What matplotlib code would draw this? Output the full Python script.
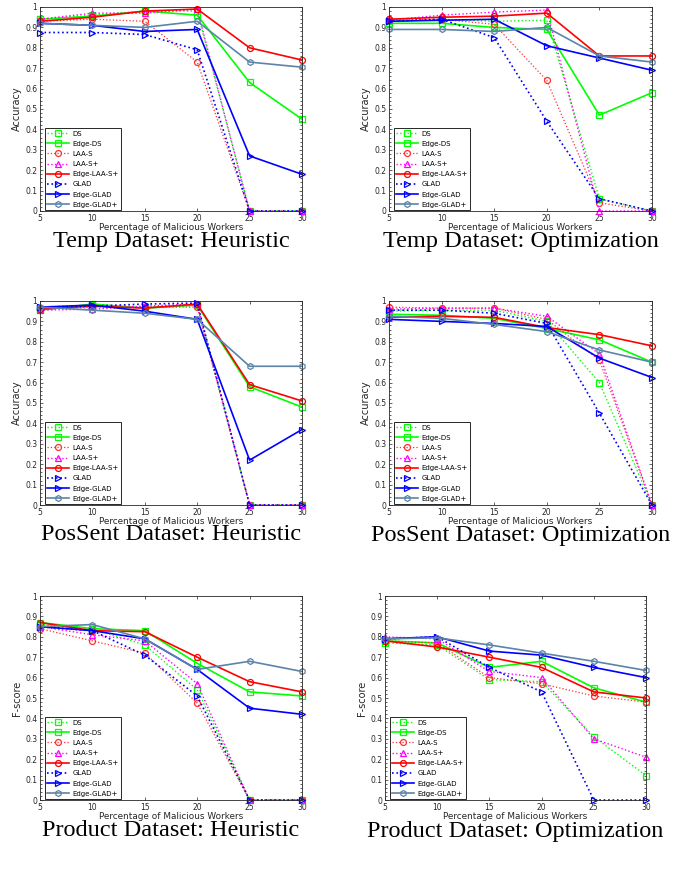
import matplotlib
matplotlib.use("Agg")
import matplotlib.pyplot as plt
from matplotlib.ticker import MultipleLocator

W, H = 681, 869
x_pct = [5, 10, 15, 20, 25, 30]
y_ticks = [0, 0.1, 0.2, 0.3, 0.4, 0.5, 0.6, 0.7, 0.8, 0.9, 1]
y_ticklabels = ["0", "0.1", "0.2", "0.3", "0.4", "0.5", "0.6", "0.7", "0.8", "0.9", "1"]
methods = ["DS", "Edge-DS", "LAA-S", "LAA-S+", "Edge-LAA-S+", "GLAD", "Edge-GLAD", "Edge-GLAD+"]

# Temp Dataset: Heuristic
temp_heur = {
    "DS":          [0.94, 0.96, 0.98, 0.98, 0.00, 0.00],
    "Edge-DS":     [0.94, 0.955, 0.98, 0.96, 0.63, 0.45],
    "LAA-S":       [0.93, 0.94, 0.93, 0.73, 0.00, 0.00],
    "LAA-S+":      [0.94, 0.97, 0.97, 0.99, 0.00, 0.00],
    "Edge-LAA-S+": [0.93, 0.95, 0.98, 0.99, 0.80, 0.74],
    "GLAD":        [0.875, 0.875, 0.865, 0.79, 0.00, 0.00],
    "Edge-GLAD":   [0.92, 0.91, 0.88, 0.89, 0.27, 0.18],
    "Edge-GLAD+":  [0.92, 0.91, 0.90, 0.93, 0.73, 0.705],
}
# Temp Dataset: Optimization
temp_opt = {
    "DS":          [0.93, 0.94, 0.93, 0.935, 0.06, 0.00],
    "Edge-DS":     [0.92, 0.92, 0.90, 0.89, 0.47, 0.58],
    "LAA-S":       [0.94, 0.94, 0.915, 0.64, 0.04, 0.00],
    "LAA-S+":      [0.935, 0.96, 0.975, 0.985, 0.00, 0.00],
    "Edge-LAA-S+": [0.94, 0.95, 0.955, 0.97, 0.76, 0.76],
    "GLAD":        [0.93, 0.94, 0.85, 0.44, 0.06, 0.00],
    "Edge-GLAD":   [0.93, 0.935, 0.94, 0.81, 0.75, 0.69],
    "Edge-GLAD+":  [0.89, 0.89, 0.88, 0.90, 0.76, 0.73],
}
# PosSent Dataset: Heuristic
pos_heur = {
    "DS":          [0.96, 0.98, 0.97, 0.98, 0.00, 0.00],
    "Edge-DS":     [0.955, 0.985, 0.965, 0.98, 0.58, 0.48],
    "LAA-S":       [0.96, 0.97, 0.97, 0.97, 0.00, 0.00],
    "LAA-S+":      [0.955, 0.96, 0.975, 0.985, 0.00, 0.00],
    "Edge-LAA-S+": [0.96, 0.975, 0.965, 0.985, 0.59, 0.51],
    "GLAD":        [0.97, 0.975, 0.985, 0.99, 0.00, 0.00],
    "Edge-GLAD":   [0.97, 0.98, 0.95, 0.91, 0.22, 0.37],
    "Edge-GLAD+":  [0.97, 0.955, 0.94, 0.91, 0.68, 0.68],
}
# PosSent Dataset: Optimization
pos_opt = {
    "DS":          [0.95, 0.955, 0.955, 0.90, 0.60, 0.00],
    "Edge-DS":     [0.935, 0.93, 0.915, 0.865, 0.81, 0.70],
    "LAA-S":       [0.97, 0.965, 0.965, 0.91, 0.71, 0.00],
    "LAA-S+":      [0.96, 0.965, 0.965, 0.925, 0.74, 0.00],
    "Edge-LAA-S+": [0.92, 0.925, 0.92, 0.87, 0.835, 0.78],
    "GLAD":        [0.955, 0.955, 0.94, 0.89, 0.45, 0.00],
    "Edge-GLAD":   [0.91, 0.90, 0.89, 0.875, 0.72, 0.625],
    "Edge-GLAD+":  [0.925, 0.915, 0.885, 0.85, 0.76, 0.70],
}
# Product Dataset: Heuristic
prod_heur = {
    "DS":          [0.86, 0.84, 0.76, 0.54, 0.00, 0.00],
    "Edge-DS":     [0.87, 0.84, 0.83, 0.67, 0.53, 0.51],
    "LAA-S":       [0.84, 0.78, 0.72, 0.475, 0.00, 0.00],
    "LAA-S+":      [0.85, 0.81, 0.78, 0.57, 0.00, 0.00],
    "Edge-LAA-S+": [0.87, 0.83, 0.825, 0.70, 0.58, 0.53],
    "GLAD":        [0.85, 0.83, 0.71, 0.51, 0.00, 0.00],
    "Edge-GLAD":   [0.85, 0.83, 0.79, 0.64, 0.45, 0.42],
    "Edge-GLAD+":  [0.85, 0.86, 0.79, 0.64, 0.68, 0.63],
}
# Product Dataset: Optimization
prod_opt = {
    "DS":          [0.77, 0.76, 0.59, 0.58, 0.31, 0.12],
    "Edge-DS":     [0.78, 0.77, 0.65, 0.68, 0.55, 0.48],
    "LAA-S":       [0.78, 0.77, 0.60, 0.57, 0.51, 0.48],
    "LAA-S+":      [0.80, 0.79, 0.63, 0.60, 0.30, 0.21],
    "Edge-LAA-S+": [0.78, 0.75, 0.70, 0.65, 0.53, 0.50],
    "GLAD":        [0.79, 0.80, 0.65, 0.53, 0.00, 0.00],
    "Edge-GLAD":   [0.79, 0.80, 0.73, 0.71, 0.65, 0.60],
    "Edge-GLAD+":  [0.79, 0.795, 0.76, 0.72, 0.68, 0.635],
}

styles = {
    "DS":          dict(color="#00ff00", ls=":", marker="s", lw=1.0),
    "Edge-DS":     dict(color="#00ff00", ls="-", marker="s", lw=1.2),
    "LAA-S":       dict(color="#ff3030", ls=":", marker="o", lw=0.9),
    "LAA-S+":      dict(color="#ff00ff", ls=":", marker="^", lw=1.0),
    "Edge-LAA-S+": dict(color="#ff0000", ls="-", marker="o", lw=1.2),
    "GLAD":        dict(color="#0000ff", ls=":", marker=">", lw=1.2),
    "Edge-GLAD":   dict(color="#0000ff", ls="-", marker=">", lw=1.2),
    "Edge-GLAD+":  dict(color="#5b84a8", ls="-", marker="h", lw=1.2),
}

panels = [
    (temp_heur, "Accuracy", "Temp Dataset: Heuristic", (40, 7, 302, 211), 242),
    (temp_opt, "Accuracy", "Temp Dataset: Optimization", (389, 7, 652, 211), 242),
    (pos_heur, "Accuracy", "PosSent Dataset: Heuristic", (40, 301, 302, 505), 535),
    (pos_opt, "Accuracy", "PosSent Dataset: Optimization", (389, 301, 652, 505), 535),
    (prod_heur, "F-score", "Product Dataset: Heuristic", (40, 596, 302, 800), 831),
    (prod_opt, "F-score", "Product Dataset: Optimization", (385, 596, 646, 800), 831),
]

fig = plt.figure(figsize=(W / 100, H / 100), dpi=100)
axcol = "#262626"

for data, ylab, cap, (x0, y0, x1, y1), capy in panels:
    ax = fig.add_axes([x0 / W, 1 - y1 / H, (x1 - x0) / W, (y1 - y0) / H])
    for m in methods:
        st = styles[m]
        ax.plot(x_pct, data[m], color=st["color"], linestyle=st["ls"], marker=st["marker"],
                lw=st["lw"], markersize=4.3, markerfacecolor="none",
                markeredgewidth=0.9, label=m, clip_on=False)
    ax.set_xlim(5, 30)
    ax.set_ylim(0, 1)
    ax.set_xticks(x_pct)
    ax.set_yticks(y_ticks)
    ax.set_yticklabels(y_ticklabels)
    ax.yaxis.set_minor_locator(MultipleLocator(0.02))
    ax.tick_params(which="both", direction="in", top=True, right=True,
                   labelsize=5.5, colors=axcol, width=0.5, pad=2)
    ax.tick_params(which="major", length=2.5)
    ax.tick_params(which="minor", length=1.2)
    for sp in ax.spines.values():
        sp.set_color(axcol)
        sp.set_linewidth(0.6)
    ax.set_ylabel(ylab, fontsize=7, color=axcol, labelpad=2)
    ax.set_xlabel("Percentage of Malicious Workers", fontsize=6.4, color=axcol, labelpad=0)
    leg = ax.legend(loc="lower left", bbox_to_anchor=(0.018, 0.004), borderaxespad=0,
                    fontsize=5, handlelength=3.2, labelspacing=0.6, borderpad=0.35,
                    handletextpad=0.4, frameon=True, fancybox=False, framealpha=1)
    leg.get_frame().set_edgecolor(axcol)
    leg.get_frame().set_linewidth(0.7)
    cx = (x0 + x1) / 2
    fig.text(cx / W, 1 - capy / H, cap, ha="center", va="center",
             fontsize=17.5, family="Liberation Serif", color="black")

fig.savefig("out.png", dpi=100)
